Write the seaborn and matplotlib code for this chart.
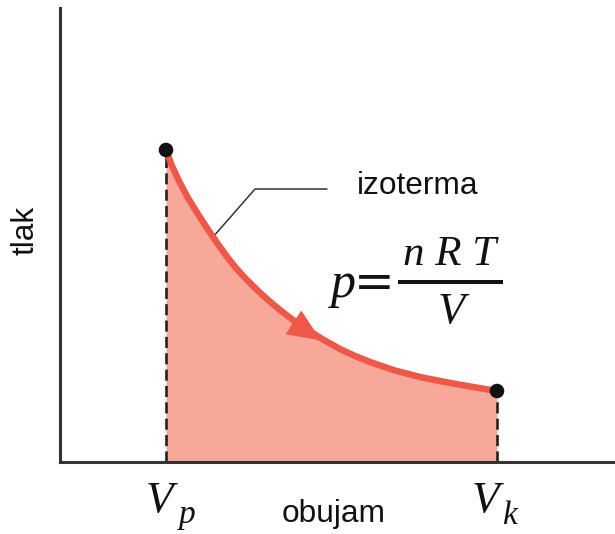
import matplotlib
matplotlib.use("Agg")
import matplotlib.pyplot as plt
import seaborn as sns
import pandas as pd

# Isotherm (volume, pressure) in arbitrary units
volume = [1.06, 1.12, 1.20, 1.28, 1.37, 1.45, 1.53, 1.60, 1.68, 1.76, 1.85, 1.93, 2.02,
          2.11, 2.20, 2.33, 2.47, 2.63, 2.80, 2.95, 3.10, 3.35, 3.60, 3.85, 4.10, 4.37]
pressure = [3.12, 2.96, 2.79, 2.64, 2.495, 2.37, 2.25, 2.15, 2.04, 1.94, 1.84, 1.76, 1.675,
            1.595, 1.52, 1.42, 1.325, 1.225, 1.13, 1.06, 1.00, 0.915, 0.85, 0.80, 0.755, 0.71]
endpoint_labels = ["p", "k"]

df = pd.DataFrame({"V": volume, "p": pressure})
ends = df.iloc[[0, -1]]

sns.set_theme(style="white")
plt.rcParams["font.family"] = ["Liberation Sans", "DejaVu Sans"]

LINE = "#EE5848"
FILL = "#F7A898"
INK = "#111111"

fig = plt.figure(figsize=(6.15, 5.34), dpi=100)
ax = fig.add_axes([60 / 615, 72 / 534, 555 / 615, 454 / 534])
ax.set_xlim(0, 5.55)
ax.set_ylim(0, 4.54)

ax.fill_between(df["V"], df["p"], 0, color=FILL, lw=0, zorder=1)
sns.lineplot(data=df, x="V", y="p", ax=ax, color=LINE, lw=4.7, zorder=3,
             solid_capstyle="butt", solid_joinstyle="round", sort=False)

# dashed verticals at the end volumes
for v, pv in zip(ends["V"], ends["p"]):
    ax.plot([v, v], [0, pv], color="#222222", lw=1.9, ls=(0, (4.2, 2.0)), zorder=2)

sns.scatterplot(data=ends, x="V", y="p", ax=ax, color="#111111", s=110,
                edgecolor="none", zorder=5, legend=False)

# arrow on the curve
ax.annotate("", xy=(2.61, 1.215), xytext=(2.36, 1.38),
            arrowprops=dict(arrowstyle="-|>,head_length=2.2,head_width=0.95",
                            mutation_scale=10, color=LINE, lw=1,
                            shrinkA=0, shrinkB=0), zorder=4)

# leader line to "izoterma"
ax.plot([1.53, 1.95, 2.67], [2.25, 2.73, 2.73], color="#333333", lw=1.1, zorder=2)
ax.text(2.97, 2.76, "izoterma", fontsize=22.8, color=INK, ha="left", va="center")

# formula p = nRT / V
serif_it = dict(family=["Liberation Serif", "DejaVu Serif"], style="italic", color=INK)
ax.text(2.83, 1.65, "p", fontsize=36, ha="center", va="baseline", **serif_it)
ax.text(3.14, 1.64, "=", fontsize=35, ha="center", va="baseline",
        family=["DejaVu Sans"], color=INK)
ax.plot([3.38, 4.43], [1.80, 1.80], color=INK, lw=2.9, solid_capstyle="butt")
ax.text(3.90, 1.97, "n R T", fontsize=31, ha="center", va="baseline", **serif_it)
ax.text(3.91, 1.39, "V", fontsize=32, ha="center", va="baseline", **serif_it)

# axis texts
ax.text(2.74, -0.60, "obujam", fontsize=22.8, color=INK, ha="center", va="baseline")
ax.text(-0.34, 2.32, "tlak", fontsize=22.8, color=INK, ha="center", va="center",
        rotation=90)
offsets = {"p": (-0.07, 0.21), "k": (-0.12, 0.12)}
for v, lab in zip(ends["V"], endpoint_labels):
    dv, ds = offsets[lab]
    ax.text(v + dv, -0.50, "V", fontsize=32.5, ha="center", va="baseline", **serif_it)
    ax.text(v + ds, -0.615, lab, fontsize=24, ha="center", va="baseline", **serif_it)

ax.set_xticks([])
ax.set_yticks([])
ax.set_xlabel("")
ax.set_ylabel("")
for s in ["top", "right"]:
    ax.spines[s].set_visible(False)
for s in ["left", "bottom"]:
    ax.spines[s].set_color("#333333")
    ax.spines[s].set_linewidth(2.2)

fig.savefig("out.png", dpi=100, facecolor="white")
